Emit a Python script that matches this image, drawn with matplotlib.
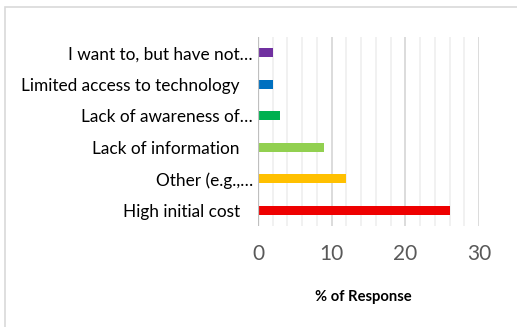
import matplotlib
matplotlib.use("Agg")
import matplotlib.pyplot as plt
import matplotlib.transforms as mtrans
from matplotlib.patches import Rectangle

categories = ["High initial cost", "Other (e.g.,…", "Lack of information",
              "Lack of awareness of…", "Limited access to technology",
              "I want to, but have not…"]
values = [26, 12, 9, 3, 2, 2]
colors = ["#ee0000", "#ffc000", "#92d050", "#00b050", "#0070c0", "#7030a0"]
label_shift = [0, 13, 0, 13, 0, 13]  # px extra to the right for ellipsis labels
xticks = [0, 10, 20, 30]

W, H = 517, 327
fig = plt.figure(figsize=(W / 100, H / 100), dpi=100)
plt.rcParams['font.family'] = ['Lato', 'DejaVu Sans']

x0, x1 = 258, 479
y0, y1 = 37, 226
ax = fig.add_axes([x0 / W, 1 - y1 / H, (x1 - x0) / W, (y1 - y0) / H])

ypos = list(range(len(categories)))
ax.barh(ypos, values, height=0.29, color=colors, zorder=3)
ax.set_xlim(0, 30)
ax.set_ylim(-0.5, len(categories) - 0.5)

for v in range(2, 31, 2):
    c = "#d9d9d9" if v % 10 == 0 else "#f0f0f0"
    ax.axvline(v, color=c, lw=1.3, zorder=1)
ax.axvline(0, color="#bfbfbf", lw=1.6, zorder=4)

for s in ax.spines.values():
    s.set_visible(False)

ax.set_xticks(xticks)
ax.set_xticklabels([str(t) for t in xticks], fontsize=15, color="#595959")
ax.tick_params(axis='x', length=0, pad=13)
ax.set_yticks(ypos)
ax.set_yticklabels(categories, fontsize=12.4, color="#000000")
ax.tick_params(axis='y', length=0, pad=13)
for lbl, sh in zip(ax.get_yticklabels(), label_shift):
    lbl.set_transform(lbl.get_transform() + mtrans.ScaledTranslation(sh / 100, 0, fig.dpi_scale_trans))

fig.text(363 / W, 1 - 297 / H, "% of Response", fontsize=10.6, fontweight='bold',
         ha='center', va='center')

fig.patches.append(Rectangle((5 / W, -0.1), 1.2, 1 - 7 / H + 0.1, transform=fig.transFigure,
                             fill=False, edgecolor="#d9d9d9", lw=1.2))

fig.savefig("out.png", dpi=100)
